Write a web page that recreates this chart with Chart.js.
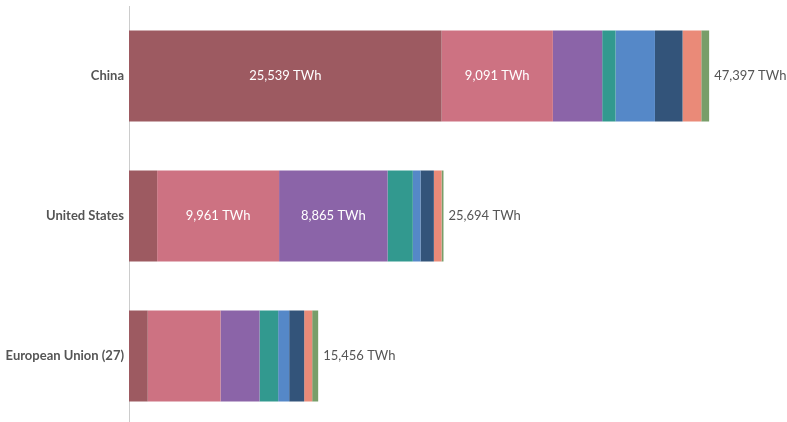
<!DOCTYPE html>
<html>
<head>
<meta charset="utf-8">
<script src="https://cdn.jsdelivr.net/npm/chart.js@4.4.1/dist/chart.umd.min.js"></script>
<style>
html,body{margin:0;padding:0;background:#fff;overflow:hidden;}
#wrap{width:787px;height:426px;position:relative;}
</style>
</head>
<body>
<div id="wrap"><canvas id="c"></canvas></div>
<script>
const categories = ["China", "United States", "European Union (27)"];
const sources = ["Coal", "Oil", "Gas", "Nuclear", "Hydropower", "Wind", "Solar", "Other renewables"];
const coal      = [25539, 2300, 1530];
const oil       = [9091, 9961, 5949];
const gas       = [4030, 8865, 3187];
const nuclear   = [1090, 2060, 1520];
const hydro     = [3220, 630, 900];
const wind      = [2255, 1090, 1226];
const solar     = [1530, 630, 654];
const otherRen  = [642, 158, 490];
const totals    = [47397, 25694, 15456];
const colors = ["#9d5a61", "#cd7282", "#8b64a8", "#32998f", "#5588c8", "#33547a", "#ea8a78", "#789e69"];

const seriesValues = [coal, oil, gas, nuclear, hydro, wind, solar, otherRen];
const fmt = v => v.toLocaleString('en-US') + ' TWh';

const labelPlugin = {
  id: 'labels',
  afterDatasetsDraw(chart) {
    const ctx = chart.ctx;
    ctx.save();
    ctx.font = '13px Lato';
    ctx.textBaseline = 'middle';
    chart.data.datasets.forEach((ds, di) => {
      const meta = chart.getDatasetMeta(di);
      meta.data.forEach((bar, i) => {
        const w = Math.abs(bar.x - bar.base);
        if (w > 90) {
          ctx.fillStyle = '#ffffff';
          ctx.textAlign = 'center';
          ctx.fillText(fmt(ds.data[i]), (bar.x + bar.base) / 2, bar.y);
        }
      });
    });
    const xs = chart.scales.x;
    const lastMeta = chart.getDatasetMeta(chart.data.datasets.length - 1);
    lastMeta.data.forEach((bar, i) => {
      ctx.fillStyle = '#555555';
      ctx.textAlign = 'left';
      ctx.fillText(fmt(totals[i]), xs.getPixelForValue(totals[i]) + 5, bar.y);
    });
    ctx.restore();
  }
};

new Chart(document.getElementById('c'), {
  type: 'bar',
  data: {
    labels: categories,
    datasets: sources.map((s, k) => ({
      label: s,
      data: seriesValues[k],
      backgroundColor: colors[k],
      borderWidth: 0,
      categoryPercentage: 1,
      barPercentage: 0.65
    }))
  },
  options: {
    indexAxis: 'y',
    responsive: true,
    maintainAspectRatio: false,
    animation: false,
    layout: { padding: { top: 6, bottom: 0, right: 46, left: 0 } },
    plugins: { legend: { display: false }, tooltip: { enabled: false } },
    scales: {
      x: { stacked: true, min: 0, max: 50000, display: false },
      y: {
        stacked: true,
        grid: { display: false, drawTicks: false },
        border: { display: true, color: '#cccccc', width: 1 },
        ticks: { color: '#555555', font: { family: 'Lato', size: 13, weight: 'bold' }, padding: 5 },
        afterFit(scale) { scale.width = 129; scale.paddingTop = 0; scale.paddingBottom = 0; }
      }
    }
  },
  plugins: [labelPlugin]
});
</script>
</body>
</html>
